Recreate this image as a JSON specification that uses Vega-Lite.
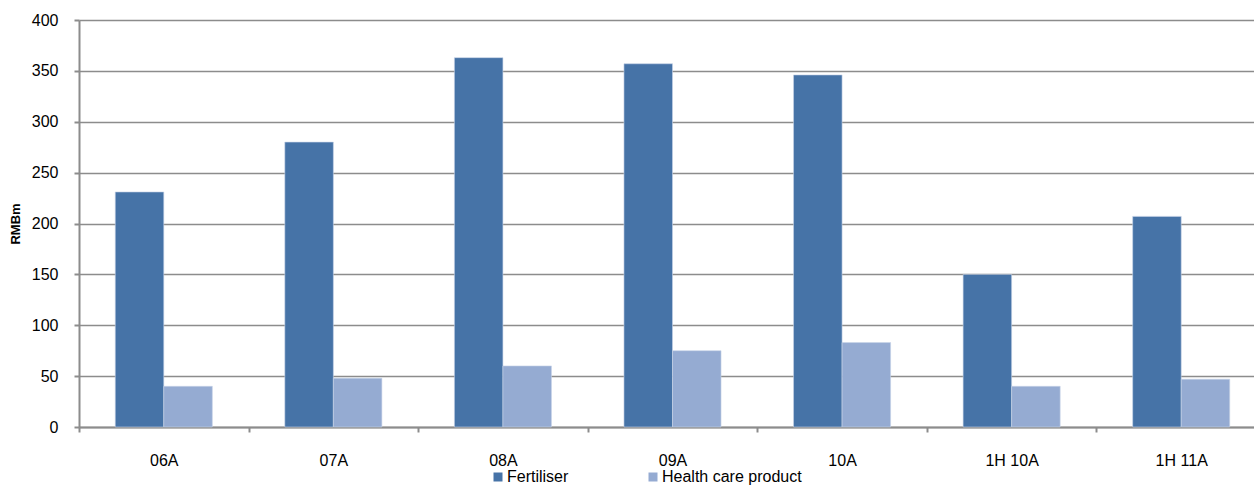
{
  "$schema": "https://vega.github.io/schema/vega-lite/v6.json",
  "width": 1187,
  "height": 407,
  "autosize": "none",
  "padding": {"left": 79, "top": 20, "right": -12, "bottom": 58},
  "background": "white",
  "config": {
    "font": "Liberation Sans",
    "view": {"stroke": null},
    "axis": {"labelFont": "Liberation Sans", "labelColor": "#000000", "titleColor": "#000000"}
  },
  "data": {
    "values": [
      {"period": "06A", "segment": "Fertiliser", "value": 231},
      {"period": "06A", "segment": "Health care product", "value": 40},
      {"period": "07A", "segment": "Fertiliser", "value": 280},
      {"period": "07A", "segment": "Health care product", "value": 48},
      {"period": "08A", "segment": "Fertiliser", "value": 363},
      {"period": "08A", "segment": "Health care product", "value": 60},
      {"period": "09A", "segment": "Fertiliser", "value": 357},
      {"period": "09A", "segment": "Health care product", "value": 75},
      {"period": "10A", "segment": "Fertiliser", "value": 346},
      {"period": "10A", "segment": "Health care product", "value": 83},
      {"period": "1H 10A", "segment": "Fertiliser", "value": 150},
      {"period": "1H 10A", "segment": "Health care product", "value": 40},
      {"period": "1H 11A", "segment": "Fertiliser", "value": 207},
      {"period": "1H 11A", "segment": "Health care product", "value": 47}
    ]
  },
  "mark": {"type": "bar", "stroke": "#c8d4e8", "strokeWidth": 0.6},
  "encoding": {
    "x": {
      "field": "period",
      "type": "nominal",
      "sort": null,
      "scale": {"paddingInner": 0, "paddingOuter": 0},
      "axis": {
        "title": null,
        "labelAngle": 0,
        "labelFontSize": 16,
        "labelPadding": 20,
        "tickBand": "extent",
        "tickSize": 5,
        "tickWidth": 2,
        "tickColor": "#8c8c8c",
        "domainColor": "#8c8c8c",
        "domainWidth": 2,
        "grid": false
      }
    },
    "xOffset": {
      "field": "segment",
      "type": "nominal",
      "sort": ["Fertiliser", "Health care product"],
      "scale": {"paddingInner": 0, "paddingOuter": 0.747}
    },
    "y": {
      "field": "value",
      "type": "quantitative",
      "scale": {"domain": [0, 400], "nice": false},
      "axis": {
        "title": "RMBm",
        "titleFontSize": 13,
        "titleFontWeight": "bold",
        "titlePadding": 9,
        "values": [0, 50, 100, 150, 200, 250, 300, 350, 400],
        "labelFontSize": 16,
        "labelPadding": 16,
        "tickSize": 5,
        "tickWidth": 2,
        "tickColor": "#8c8c8c",
        "domainColor": "#8c8c8c",
        "domainWidth": 2,
        "grid": true,
        "gridColor": "#8c8c8c",
        "gridWidth": 1.6
      }
    },
    "color": {
      "field": "segment",
      "type": "nominal",
      "sort": ["Fertiliser", "Health care product"],
      "scale": {"range": ["#4673a7", "#95abd2"]},
      "legend": {
        "title": null,
        "orient": "none",
        "direction": "horizontal",
        "legendX": 411,
        "legendY": 449,
        "symbolType": "square",
        "symbolSize": 81,
        "symbolStrokeWidth": 0,
        "labelFontSize": 16,
        "labelOffset": 1,
        "columnPadding": 76
      }
    }
  }
}
